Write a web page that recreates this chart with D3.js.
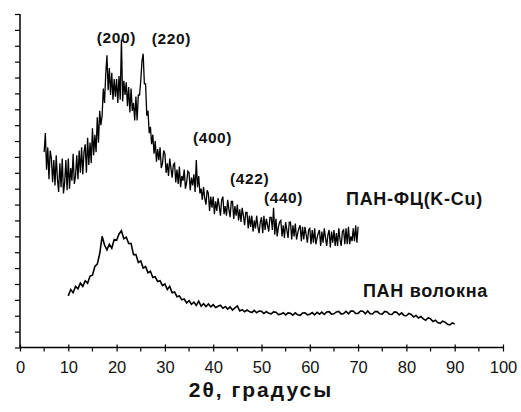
<!DOCTYPE html>
<html><head><meta charset="utf-8">
<script src="https://cdn.jsdelivr.net/npm/d3@7/dist/d3.min.js"></script>
<style>body{margin:0;background:#fff}svg{display:block}</style>
</head><body><svg id="c" width="521" height="412"></svg>
<script>
// ПАН-ФЦ(K-Cu): 2θ from 5 to 70 step 0.25
const upperStart = 5, upperStep = 0.25;
const upperValues = [
12.3,13.5,11.2,12.6, 10.6,12.4,11.9,10.4, 11.8,10.2,12.1,10.6, 9.8,11.6,10.1,11.9,
9.7,10.4,11.8,9.9, 11.9,10.0,11.3,10.5, 12.2,10.3,10.8,12.1, 10.6,12.4,11.0,12.6,
10.9,12.3,12.8,11.0, 13.2,11.5,12.9,11.6, 13.8,12.1,13.4,12.3, 14.5,12.9,14.9,14.0,
14.6,16.3,15.4,17.2, 18.4,16.2,17.6,15.9, 17.3,15.6,16.9,15.8, 16.9,15.4,17.1,15.6,
19.4,15.5,16.8,15.9, 16.7,15.2,16.4,14.8, 16.3,14.9,15.4,14.3, 15.8,14.3,15.9,15.9,
16.8,18.0,18.5,16.6, 16.6,14.6,14.9,13.5, 13.9,12.8,13.4,12.2, 13.0,11.7,12.5,11.8,
12.6,11.3,11.6,12.4, 12.2,11.0,11.6,10.8, 11.9,11.3,10.7,11.5, 11.6,10.4,11.2,10.3,
11.4,10.1,10.8,10.5, 11.2,10.0,10.4,11.1, 11.0,9.9,10.7,10.2, 10.9,9.8,11.8,10.1,
10.8,9.7,10.0,9.3, 10.1,9.4,9.0,9.9, 9.7,8.6,9.5,8.8, 9.5,8.4,9.2,8.6,
9.4,8.9,8.3,9.3, 9.5,8.4,8.9,8.3, 9.3,8.7,8.2,9.2, 9.2,8.1,8.9,8.3,
9.0,8.0,8.7,7.9, 8.8,8.3,7.7,8.5, 8.5,7.5,8.3,7.6, 8.3,7.3,8.0,7.5,
8.3,7.6,7.2,7.9, 8.2,7.2,8.3,7.4, 8.1,7.7,7.3,8.2, 8.2,7.4,8.8,7.1,
8.1,7.0,7.6,7.9, 8.0,7.0,7.7,6.9, 7.9,7.4,6.9,7.9, 7.9,6.8,7.7,7.0,
7.8,6.8,7.2,7.5, 7.7,6.7,7.6,6.8, 7.6,7.1,6.6,7.4, 7.5,6.5,7.4,6.6,
7.5,6.5,6.9,7.2, 7.4,6.4,7.3,6.6, 7.5,6.9,6.4,7.1, 7.4,6.3,7.3,6.6,
7.4,6.4,7.2,6.4, 7.5,6.8,6.4,7.3, 7.4,6.5,7.5,6.5, 7.6,6.5,7.0,6.7,
7.5,6.7,7.7,6.6, 7.6
];
// ПАН волокна: 2θ from 10 to 90 step 0.5
const lowerStart = 10, lowerStep = 0.5;
const lowerValues = [
3.25,3.65, 3.45,3.85, 3.7,4.05, 3.85,4.2, 4.05,4.5, 4.55,5.1, 5.25,5.9, 7.0,6.45, 6.15,6.5, 6.25,6.8,
6.75,7.15, 7.35,6.85, 6.95,6.55, 6.55,5.85, 5.85,5.35, 5.45,5.0, 5.1,4.7, 4.8,4.4, 4.45,4.15, 4.2,3.9,
4.0,3.65, 3.85,3.45, 3.5,3.2, 3.25,3.0, 3.05,2.8, 2.95,2.72, 2.85,2.65, 2.92,2.6, 2.76,2.58, 2.74,2.56,
2.7,2.52, 2.6,2.66, 2.47,2.58, 2.42,2.55, 2.36,2.5, 2.62,2.3, 2.38,2.25, 2.36,2.26, 2.2,2.34, 2.19,2.3,
2.28,2.14, 2.26,2.15, 2.12,2.24, 2.22,2.07, 2.1,2.19, 2.05,2.18, 2.15,2.04, 2.18,2.06, 2.03,2.17, 2.19,2.05,
2.1,2.2, 2.05,2.22, 2.1,2.23, 2.08,2.24, 2.26,2.1, 2.12,2.24, 2.27,2.1, 2.14,2.28, 2.12,2.29, 2.3,2.14,
2.15,2.3, 2.28,2.12, 2.3,2.13, 2.11,2.27, 2.26,2.12, 2.1,2.27, 2.24,2.09, 2.08,2.24, 2.22,2.05, 2.18,2.02,
2.0,2.14, 2.08,1.92, 2.02,1.86, 1.95,1.8, 1.72,1.88, 1.8,1.64, 1.72,1.57, 1.52,1.66, 1.6,1.46, 1.42,1.55,
1.48
];
const xTicks = [0,10,20,30,40,50,60,70,80,90,100];
const xMinor = [5,15,25,35,45,55,65,75,85,95];
const yTicks = d3.range(0, 22, 1);
const peakLabels = [
  {text:"(200)", x:15.9, y:19.17},
  {text:"(220)", x:27.3, y:19.1},
  {text:"(400)", x:35.8, y:12.85},
  {text:"(422)", x:43.5, y:10.3},
  {text:"(440)", x:50.5, y:9.1}
];
const seriesLabels = [
  {text:"ПАН-ФЦ(K-Cu)", x:67.5, y:8.98},
  {text:"ПАН волокна", x:71.0, y:3.15}
];
const xTitle = "2θ, градусы";

const svg = d3.select("#c");
const x = d3.scaleLinear().domain([0,100]).range([20,503]);
const y = d3.scaleLinear().domain([0,21]).range([347.5,14]);
const font = "'Liberation Sans', Arial, Helvetica, sans-serif";

const upper = upperValues.map((v,i)=>[upperStart+i*upperStep, v]);
const lower = lowerValues.map((v,i)=>[lowerStart+i*lowerStep, v]);
const line = d3.line().x(d=>x(d[0])).y(d=>y(d[1]));

svg.append("path").datum(upper).attr("d",line)
  .attr("fill","none").attr("stroke","#000").attr("stroke-width",1.3);
svg.append("path").datum(lower).attr("d",line)
  .attr("fill","none").attr("stroke","#000").attr("stroke-width",1.6);

// y axis
const ya = svg.append("g").attr("transform","translate(20,0)")
  .call(d3.axisLeft(y).tickValues(yTicks).tickSize(5).tickFormat(""));
ya.select(".domain").attr("d",`M0,${y(21)}V${y(0)}`).attr("stroke-width",1.5);
ya.selectAll(".tick line").attr("stroke-width",1.2);

// x axis
const xa = svg.append("g").attr("transform",`translate(0,${y(0)})`)
  .call(d3.axisBottom(x).tickValues(xTicks).tickSize(4).tickPadding(10));
xa.select(".domain").attr("d",`M${x(0)},0H${x(100)}`).attr("stroke-width",1.5);
xa.selectAll(".tick line").attr("y1",-3).attr("y2",4).attr("stroke-width",1.2);
xa.selectAll(".tick text").attr("font-family",font).attr("font-size",16.5).attr("fill","#111");
xa.selectAll(".minor").data(xMinor).enter().append("line").attr("class","minor")
  .attr("x1",d=>x(d)).attr("x2",d=>x(d)).attr("y1",0).attr("y2",4)
  .attr("stroke","#000").attr("stroke-width",1.2);

svg.selectAll(".pk").data(peakLabels).enter().append("text").attr("class","pk")
  .attr("x",d=>x(d.x)).attr("y",d=>y(d.y)).text(d=>d.text)
  .attr("font-family",font).attr("font-weight","bold").attr("font-size",15.5)
  .attr("letter-spacing",0.6).attr("fill","#111");
svg.selectAll(".sl").data(seriesLabels).enter().append("text").attr("class","sl")
  .attr("x",d=>x(d.x)).attr("y",d=>y(d.y)).text(d=>d.text)
  .attr("font-family",font).attr("font-weight","bold").attr("font-size",18)
  .attr("letter-spacing",0.7).attr("fill","#111");
svg.append("text").attr("x",261).attr("y",397).attr("text-anchor","middle")
  .attr("font-family",font).attr("font-weight","bold").attr("font-size",21)
  .attr("letter-spacing",2).attr("fill","#111")
  .text(xTitle);
</script></body></html>
